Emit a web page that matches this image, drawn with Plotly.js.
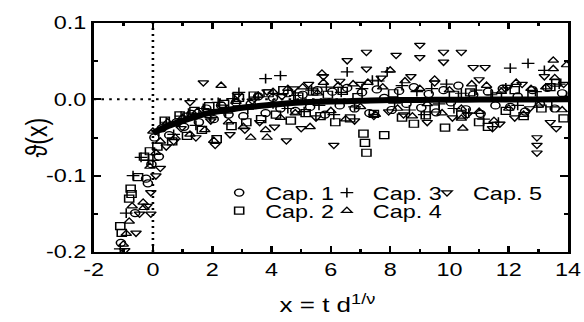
<!DOCTYPE html>
<html>
<head>
<meta charset="utf-8">
<script src="https://cdn.plot.ly/plotly-3.0.1.min.js"></script>
<style>
  html, body { margin: 0; padding: 0; background: #fff; }
  #wrap { width: 584px; height: 322px; overflow: hidden; position: relative; }
  #plot { width: 449px; height: 322px; transform: scaleX(1.3); transform-origin: 0 0; }
</style>
</head>
<body>
<div id="wrap"><div id="plot"></div></div>
<script>
// ---- data ----
const seriesNames = ["Cap. 1", "Cap. 2", "Cap. 3", "Cap. 4", "Cap. 5"];

const xCap1 = [-1.08,-0.6,-0.23,-0.17,-0.05,0.05,0.2,0.3,0.55,0.8,1.05,1.3,1.55,1.8,2.05,2.3,2.55,2.8,3.05,3.3,3.55,3.8,4.05,4.3,4.55,4.8,5.05,5.3,5.55,5.8,6.05,6.3,6.55,6.8,7.05,7.3,7.55,7.8,8.05,8.3,8.55,8.8,9.05,9.3,9.55,9.8,10.05,10.3,10.55,10.8,11.05,11.3,11.55,11.8,12.05,12.3,12.55,12.8,13.05,13.3,13.55,13.8];
const yCap1 = [-0.188,-0.149,-0.104,-0.11,-0.085,-0.05,-0.075,-0.038,-0.047,-0.03,-0.036,-0.019,-0.03,-0.012,-0.026,-0.008,-0.02,-0.004,-0.022,-0.006,0.004,-0.018,0.002,-0.012,0.008,-0.015,0.006,-0.01,0.012,-0.02,0.01,-0.008,0.015,-0.012,0.009,-0.018,0.013,0.002,-0.014,0.011,-0.006,0.016,-0.011,0.007,-0.017,0.012,-0.004,0.018,-0.013,0.006,-0.019,0.01,-0.008,0.014,-0.01,0.004,-0.016,0.012,-0.006,0.015,-0.012,0.008];

const xCap2 = [-1.1,-1.05,-0.8,-0.75,-0.72,-0.5,-0.3,-0.1,0.15,0.4,0.65,0.9,1.15,1.4,1.65,1.9,2.15,2.4,2.65,2.9,3.15,3.4,3.65,3.9,4.15,4.4,4.65,4.9,5.15,5.4,5.65,5.9,6.15,6.4,6.65,6.9,7.1,7.15,7.2,7.45,7.8,8.1,8.4,8.8,9.2,9.5,9.85,10.15,10.4,10.7,11.0,11.3,11.6,11.9,12.2,12.5,12.8,13.1,13.4,13.6,13.85];
const yCap2 = [-0.166,-0.175,-0.13,-0.117,-0.124,-0.102,-0.075,-0.068,-0.062,-0.028,-0.055,-0.021,-0.048,-0.015,-0.04,-0.009,-0.052,-0.006,-0.035,0.002,-0.03,0.005,-0.026,0.008,-0.02,0.012,-0.028,0.004,-0.018,0.01,-0.022,0.006,-0.03,0.011,-0.025,0.003,-0.045,-0.057,-0.07,-0.019,-0.047,0.008,-0.024,-0.032,-0.021,-0.012,-0.037,0.006,-0.02,0.009,-0.03,-0.036,0.004,-0.015,0.012,-0.022,0.007,-0.012,0.016,0.022,-0.025];

const xCap3 = [-1.1,-0.9,-0.67,-0.4,-0.15,0.0,0.2,0.45,0.7,0.95,1.2,1.45,1.7,1.95,2.2,2.45,2.7,2.9,3.2,3.45,3.8,4.05,4.3,4.55,4.8,5.1,5.35,5.6,5.85,6.1,6.35,6.55,6.8,7.05,7.4,7.6,7.9,8.15,8.4,8.65,8.9,9.15,9.4,9.65,9.9,10.15,10.4,10.65,10.9,11.15,11.4,11.65,11.9,12.05,12.3,12.65,12.9,13.2,13.45,13.7,13.95];
const yCap3 = [-0.196,-0.149,-0.1,-0.076,-0.08,-0.08,-0.042,-0.03,-0.046,-0.022,-0.018,-0.034,-0.012,-0.024,-0.004,-0.018,0.001,0.009,-0.013,0.003,0.027,-0.006,0.031,-0.012,0.005,-0.016,0.012,-0.008,0.016,-0.02,0.009,0.036,-0.01,0.014,0.025,0.024,0.036,-0.005,0.018,-0.014,0.01,-0.02,0.014,-0.006,0.02,-0.012,0.008,-0.018,0.012,-0.026,0.006,-0.03,0.015,0.041,-0.008,0.047,0.01,0.038,-0.01,0.02,0.004];

const xCap4 = [-1.0,-0.9,-0.8,-0.7,-0.33,-0.3,-0.1,0.0,0.1,0.25,0.5,0.75,1.0,1.25,1.5,1.75,2.05,2.3,2.55,2.8,3.05,3.3,3.55,3.8,3.85,4.05,4.3,4.55,4.8,5.05,5.3,5.55,5.7,5.75,6.0,6.25,6.5,6.75,7.0,7.25,7.5,7.75,8.0,8.25,8.5,8.75,9.0,9.25,9.5,9.75,10.0,10.4,10.4,10.45,10.75,11.0,11.25,11.5,11.75,12.0,12.25,12.5,12.75,13.0,13.25,13.5,13.5,13.55,13.8,13.95];
const yCap4 = [-0.19,-0.176,-0.16,-0.14,-0.135,-0.142,-0.088,-0.042,-0.07,-0.055,-0.03,-0.05,-0.024,-0.046,-0.016,-0.04,-0.054,0.018,-0.03,-0.003,-0.036,-0.05,0.005,-0.04,-0.05,0.01,-0.024,0.014,-0.018,0.016,-0.036,0.008,0.034,0.022,-0.015,0.018,-0.026,0.02,-0.01,0.022,-0.02,0.016,0.038,-0.012,0.024,-0.022,0.014,-0.006,0.026,-0.018,0.012,-0.012,-0.025,-0.038,0.02,-0.016,0.018,-0.028,0.01,-0.012,0.022,-0.02,0.014,-0.008,0.016,0.051,0.04,0.028,-0.014,0.045];

const xCap5 = [-0.95,-0.57,-0.45,-0.2,-0.07,-0.07,0.1,0.25,0.45,0.7,0.95,1.25,1.45,1.7,1.95,2.1,2.35,2.6,2.85,3.1,3.35,3.6,3.85,4.1,4.35,4.5,4.75,5.0,5.25,5.5,5.75,6.1,6.3,6.55,6.8,7.0,7.2,7.2,7.45,7.7,7.95,8.2,8.45,8.7,9.0,9.0,9.25,9.5,9.8,9.8,10.1,10.4,10.6,10.8,11.0,11.2,11.45,11.7,11.95,12.2,12.45,12.7,12.95,12.95,12.95,13.2,13.4,13.6,13.85];
const yCap5 = [-0.198,-0.175,-0.15,-0.14,-0.122,-0.15,-0.1,-0.09,-0.062,-0.055,-0.038,-0.004,-0.05,0.022,-0.028,-0.06,-0.01,-0.046,0.006,-0.04,-0.002,-0.03,0.01,-0.036,0.004,-0.054,0.014,-0.038,0.02,-0.024,0.03,-0.06,0.024,0.051,-0.028,0.02,0.062,0.04,-0.022,0.028,-0.016,0.058,-0.02,0.03,0.071,0.055,-0.03,0.022,0.062,0.049,-0.024,0.062,-0.02,0.042,0.026,0.042,-0.038,-0.032,0.016,-0.024,0.02,-0.012,-0.05,-0.06,-0.07,0.03,-0.03,-0.038,0.02];

// fitted curve
const curveX = [0,0.5,1,1.5,2,2.5,3,3.5,4,5,6,7,8,9,10,11,12,13,14];
const curveY = [-0.044,-0.035,-0.028,-0.022,-0.017,-0.014,-0.011,-0.009,-0.007,-0.004,-0.003,-0.002,-0.001,-0.0008,-0.0005,-0.0003,-0.0002,-0.0001,0];

// reference lines
const refLineX = 0;
const refLineY = 0;

// ticks and titles
const xTickVals = [-2,0,2,4,6,8,10,12,14];
const xTickText = ["-2","0","2","4","6","8","10","12","14"];
const yTickVals = [-0.2,-0.1,0.0,0.1];
const yTickText = ["-0.2","-0.1","0.0","0.1"];
const xTitle = "x = t d<sup>1/ν</sup>";
const yTitle = "ϑ(x)";

// ---- drawing ----
const FONT = "Liberation Sans, Arial, Helvetica, sans-serif";
const symbols = ["circle-open","square-open","cross-thin-open","triangle-up-open","triangle-down-open"];
const xs = [xCap1, xCap2, xCap3, xCap4, xCap5];
const ys = [yCap1, yCap2, yCap3, yCap4, yCap5];
const legendIds = ["legend","legend2","legend3","legend4","legend5"];
// legend slot positions (paper fractions): columns and rows
const legendPos = [[0.252,0.258],[0.252,0.179],[0.479,0.258],[0.479,0.179],[0.690,0.258]];

const traces = seriesNames.map((name, i) => ({
  type: "scatter", mode: "markers", name: name,
  x: xs[i], y: ys[i],
  legend: legendIds[i],
  marker: { symbol: symbols[i], size: 7, color: "#000", line: { color: "#000", width: 1.2 } }
}));
traces.push({
  type: "scatter", mode: "lines", x: curveX, y: curveY, showlegend: false,
  line: { color: "#000", width: 6, shape: "spline" }
});

const axisCommon = {
  showline: true, linewidth: 2, linecolor: "#000", mirror: "ticks",
  ticks: "inside", ticklen: 6, tickwidth: 2, tickcolor: "#000",
  showgrid: false, zeroline: false,
  tickfont: { family: FONT, size: 18, color: "#000" },
  tickmode: "array"
};

const layout = {
  width: 449, height: 322,
  margin: { l: 72, r: 12, t: 23, b: 70 },
  paper_bgcolor: "#fff", plot_bgcolor: "#fff",
  font: { family: FONT, color: "#000", size: 18 },
  xaxis: Object.assign({}, axisCommon, {
    range: [-2, 14], tickvals: xTickVals, ticktext: xTickText,
    minor: { dtick: 1, tick0: 0, ticks: "inside", ticklen: 3, tickwidth: 2, tickcolor: "#000" }
  }),
  yaxis: Object.assign({}, axisCommon, {
    range: [-0.2, 0.1], tickvals: yTickVals, ticktext: yTickText,
    minor: { dtick: 0.05, tick0: 0, ticks: "inside", ticklen: 3, tickwidth: 2, tickcolor: "#000" }
  }),
  annotations: [
    { text: yTitle, xref: "paper", yref: "paper", x: -0.121, y: 0.5, xanchor: "center", yanchor: "middle",
      textangle: -90, showarrow: false, font: { family: FONT, size: 23, color: "#000" } },
    { text: xTitle, xref: "paper", yref: "paper", x: 0.492, y: -0.225, xanchor: "center", yanchor: "middle",
      showarrow: false, font: { family: FONT, size: 20, color: "#000" } }
  ],
  shapes: [
    { type: "line", xref: "x", yref: "paper", x0: refLineX, x1: refLineX, y0: 0, y1: 1, layer: "below",
      line: { color: "#000", width: 2, dash: "2px,4px" } },
    { type: "line", xref: "paper", yref: "y", x0: 0, x1: 1, y0: refLineY, y1: refLineY, layer: "below",
      line: { color: "#000", width: 2, dash: "2px,4px" } }
  ],
  showlegend: true
};
legendIds.forEach((id, i) => {
  layout[id] = {
    x: legendPos[i][0], xanchor: "left", y: legendPos[i][1], yanchor: "middle",
    bgcolor: "rgba(0,0,0,0)", borderwidth: 0,
    font: { family: FONT, size: 18, color: "#000" }
  };
});

Plotly.newPlot("plot", traces, layout, { staticPlot: true, displayModeBar: false });
</script>
</body>
</html>
